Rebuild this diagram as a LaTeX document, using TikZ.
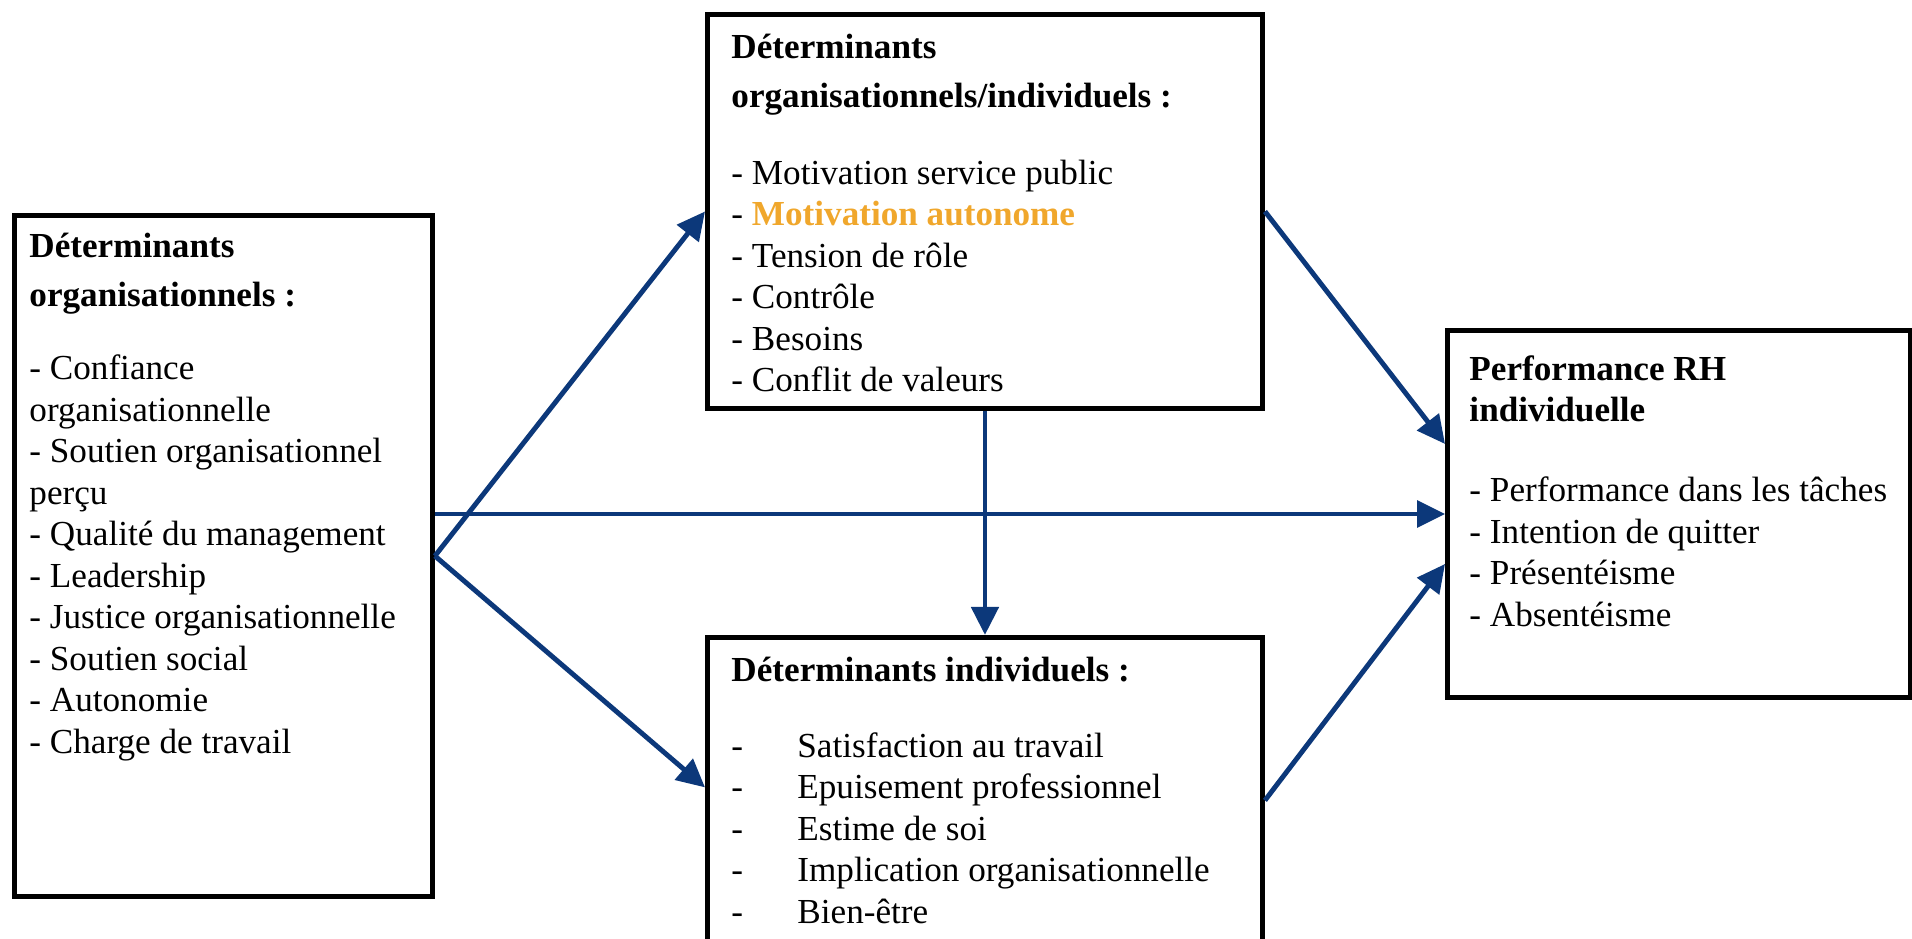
\documentclass[tikz,border=0pt]{standalone}
\usepackage{fontspec}
\setmainfont{Liberation Serif}
\usetikzlibrary{positioning,arrows.meta}
\definecolor{linkblue}{RGB}{12,56,122}
\definecolor{autoorange}{RGB}{240,167,44}

\begin{document}
\begin{tikzpicture}[box/.style={draw,line width=1.4pt,inner xsep=0.24cm,font=\fontsize{10}{11.8}\selectfont},
		link/.style={draw=linkblue,line width=1.4pt,-{Triangle[length=0.28cm,width=0.27cm]}}]
		\useasboundingbox (0,0) rectangle (19.12,-9.38);

		\node[box,anchor=north west,inner xsep=0.15cm,inner ysep=0.18cm]	(org)	at (0.12,-2.13)
			{\begin{minipage}[c][6.45cm][t]{3.88cm}
				\textbf{Déterminants}\\[2.1pt]
				\textbf{organisationnels :}\\[9pt]
				- Confiance\\
				organisationnelle\\
				- Soutien organisationnel\\
				perçu\\
				- Qualité du management\\
				- Leadership\\
				- Justice organisationnelle\\
				- Soutien social\\
				- Autonomie\\
				- Charge de travail
			\end{minipage}};
		\node[box,anchor=north west,inner ysep=0.2cm]						(mix)	at (7.05,-0.12)
			{\begin{minipage}[c][3.54cm][t]{5.07cm}
				\textbf{Déterminants}\\[2.1pt]
				\textbf{organisationnels/individuels :}\\[10pt]
				- Motivation service public\\
				- \textcolor{autoorange}{\textbf{Motivation autonome}}\\
				- Tension de rôle\\
				- Contrôle\\
				- Besoins\\
				- Conflit de valeurs
			\end{minipage}};
		% cut by the bottom of the page
		\node[box,below=2.24cm of mix,inner ysep=0.2cm]					(ind)
			{\begin{minipage}[c][2.86cm][t]{5.07cm}
				\textbf{Déterminants individuels :}\\[9.7pt]
				\makebox[0.66cm][l]{-}Satisfaction au travail\\
				\makebox[0.66cm][l]{-}Epuisement professionnel\\
				\makebox[0.66cm][l]{-}Estime de soi\\
				\makebox[0.66cm][l]{-}Implication organisationnelle\\
				\makebox[0.66cm][l]{-}Bien-être
			\end{minipage}};
		\node[box,anchor=north west,inner xsep=0.22cm,inner ysep=0.25cm]	(perf)	at (14.45,-3.28)
			{\begin{minipage}[c][3.17cm][t]{4.19cm}
				\textbf{Performance RH}\\
				\textbf{individuelle}\\[11pt]
				\mbox{- Performance dans les tâches}\\
				- Intention de quitter\\
				- Présentéisme\\
				- Absentéisme
			\end{minipage}};

		\draw[link] (org.east) -- (mix.west);
		\draw[link] (org.east) -- ([yshift=0.13cm]ind.west);
		\draw[link,line width=0.9pt] (org.east |- perf.west) -- (perf.west);
		\draw[link] (mix.south) -- (ind.north);
		\draw[link] (mix.east) -- ([yshift=0.7cm]perf.west);
		\draw[link] (ind.east) -- ([yshift=-0.5cm]perf.west);
	\end{tikzpicture}
\end{document}
